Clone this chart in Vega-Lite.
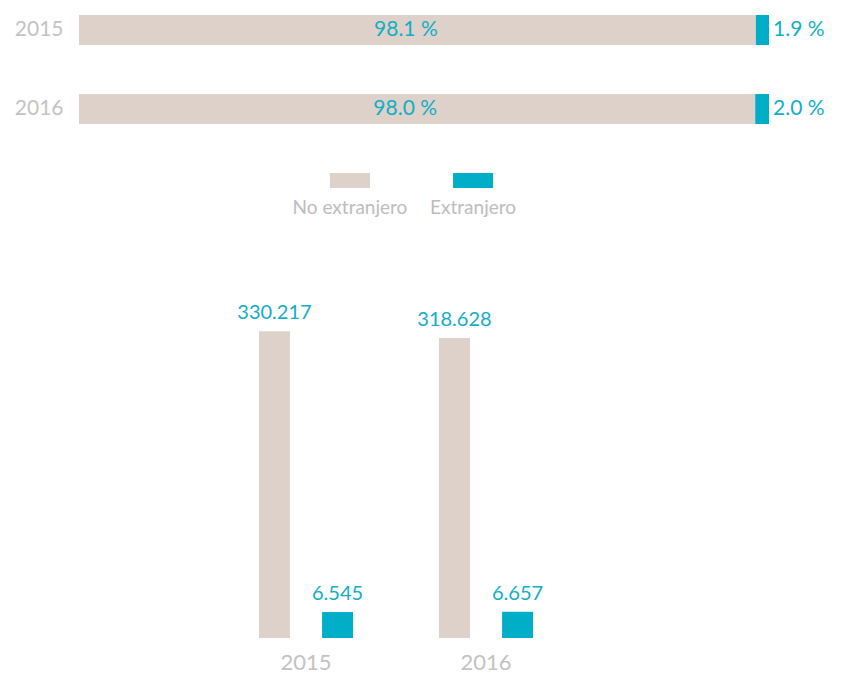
{
  "$schema": "https://vega.github.io/schema/vega-lite/v6.json",
  "background": "white",
  "padding": {"left": 14, "top": 0, "right": 0, "bottom": 0},
  "config": {
    "view": {"stroke": null},
    "font": "Lato",
    "locale": {"number": {"decimal": ".", "thousands": ".", "grouping": [3], "currency": ["", ""], "percent": " %"}}
  },
  "datasets": {
    "pct": [
      {"anio": "2015", "tipo": "No extranjero", "valor": 0.981},
      {"anio": "2015", "tipo": "Extranjero", "valor": 0.019},
      {"anio": "2016", "tipo": "No extranjero", "valor": 0.980},
      {"anio": "2016", "tipo": "Extranjero", "valor": 0.020}
    ],
    "abs": [
      {"anio": "2015", "tipo": "No extranjero", "valor": 330217},
      {"anio": "2015", "tipo": "Extranjero", "valor": 6545},
      {"anio": "2016", "tipo": "No extranjero", "valor": 318628},
      {"anio": "2016", "tipo": "Extranjero", "valor": 6657}
    ]
  },
  "spacing": 85,
  "resolve": {"scale": {"x": "independent", "xOffset": "independent"}},
  "vconcat": [
    {
      "spacing": 34,
      "resolve": {"scale": {"x": "independent", "xOffset": "independent"}},
      "vconcat": [
        {
          "width": 690,
          "height": 139,
          "data": {"name": "pct"},
          "transform": [
            {"stack": "valor", "groupby": ["anio"], "sort": [{"field": "tipo", "order": "descending"}], "as": ["v0", "v1"]}
          ],
          "encoding": {
            "y": {
              "field": "anio", "type": "nominal",
              "scale": {"paddingInner": 0.62, "paddingOuter": 0.19},
              "axis": {"title": null, "ticks": false, "domain": false, "labelPadding": 16, "labelFontSize": 21, "labelColor": "#c3c3c3", "labelFont": "Lato", "minExtent": 64, "maxExtent": 64}
            }
          },
          "layer": [
            {
              "mark": {"type": "bar"},
              "encoding": {
                "x": {"field": "v0", "type": "quantitative", "scale": {"domain": [0, 1]}, "axis": null},
                "x2": {"field": "v1"},
                "color": {"field": "tipo", "type": "nominal", "scale": {"domain": ["No extranjero", "Extranjero"], "range": ["#ddd1c9", "#00afc7"]}, "legend": null}
              }
            },
            {
              "transform": [{"filter": "datum.tipo === 'No extranjero'"}],
              "mark": {"type": "text", "dx": -350, "align": "center", "baseline": "middle", "fontSize": 21, "color": "#12aec6"},
              "encoding": {
                "x": {"field": "v1", "type": "quantitative"},
                "text": {"field": "valor", "type": "quantitative", "format": ".1%"}
              }
            },
            {
              "transform": [{"filter": "datum.tipo === 'Extranjero'"}],
              "mark": {"type": "text", "dx": 4, "align": "left", "baseline": "middle", "fontSize": 21, "color": "#12aec6"},
              "encoding": {
                "x": {"field": "v1", "type": "quantitative"},
                "text": {"field": "valor", "type": "quantitative", "format": ".1%"}
              }
            }
          ]
        },
        {
          "width": 665,
          "height": 15,
          "data": {"name": "pct"},
          "transform": [{"filter": "datum.anio === '2015'"}],
          "encoding": {
            "x": {"datum": "leyenda", "type": "nominal", "scale": {"paddingInner": 0, "paddingOuter": 1}, "axis": null},
            "xOffset": {"field": "tipo", "type": "nominal", "sort": ["No extranjero", "Extranjero"], "scale": {"paddingInner": 0.675, "paddingOuter": 0.238}}
          },
          "layer": [
            {
              "mark": {"type": "rect"},
              "encoding": {
                "color": {"field": "tipo", "type": "nominal", "scale": {"domain": ["No extranjero", "Extranjero"], "range": ["#ddd1c9", "#00afc7"]}, "legend": null}
              }
            },
            {
              "mark": {"type": "text", "dy": 27, "baseline": "middle", "align": "center", "fontSize": 19, "color": "#bdbdbd"},
              "encoding": {"text": {"field": "tipo", "type": "nominal"}}
            }
          ]
        }
      ]
    },
    {
      "width": 634,
      "height": 324,
      "data": {"name": "abs"},
      "encoding": {
        "x": {
          "field": "anio", "type": "nominal",
          "scale": {"paddingInner": 0.478, "paddingOuter": 1},
          "axis": {"title": null, "ticks": false, "domain": false, "labelAngle": 0, "labelPadding": 14, "labelFontSize": 22, "labelColor": "#c3c3c3", "labelFont": "Lato"}
        },
        "xOffset": {"field": "tipo", "type": "nominal", "scale": {"domain": ["No extranjero", "Extranjero"], "paddingInner": 0.51, "paddingOuter": 0}},
        "y": {
          "field": "valor", "type": "quantitative",
          "scale": {"type": "pow", "exponent": 0.63, "domain": [0, 360000]},
          "axis": null
        }
      },
      "layer": [
        {
          "mark": {"type": "bar"},
          "encoding": {
            "color": {"field": "tipo", "type": "nominal", "scale": {"domain": ["No extranjero", "Extranjero"], "range": ["#ddd1c9", "#00afc7"]}, "legend": null}
          }
        },
        {
          "mark": {"type": "text", "baseline": "alphabetic", "dy": -12, "fontSize": 20, "color": "#12aec6"},
          "encoding": {"text": {"field": "valor", "type": "quantitative", "format": ",d"}}
        }
      ]
    }
  ]
}
